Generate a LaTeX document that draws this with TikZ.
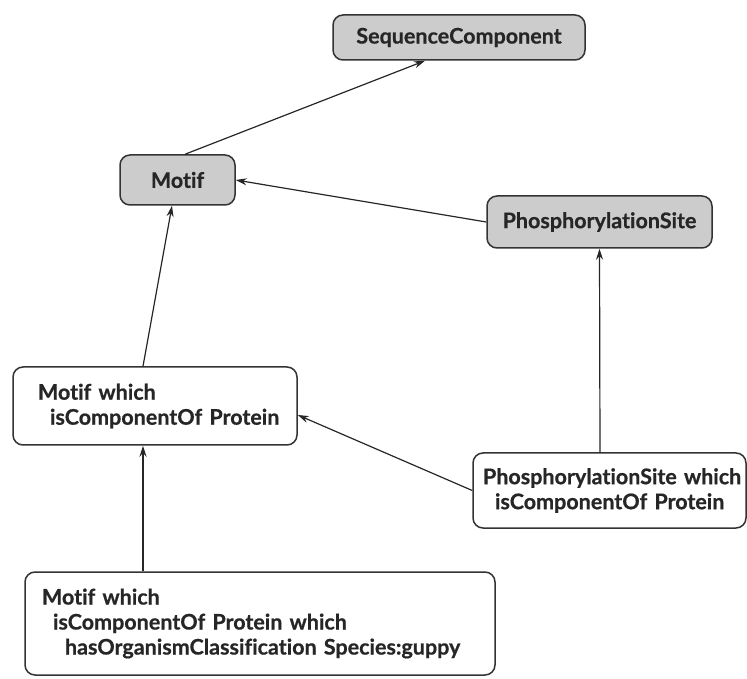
\documentclass[tikz,border=0pt]{standalone}
\usepackage{fontspec}
\setmainfont{Lato}[Ligatures=NoCommon, BoldFeatures={FakeBold=0.6}]
\usetikzlibrary{arrows.meta}
\begin{document}
\begin{tikzpicture}[x=1pt,y=1pt,
  base/.style={draw=black!80, line width=1.5pt, rounded corners=10pt,
    text=black!85, font=\fontsize{21.5}{25}\selectfont\bfseries},
  classbox/.style={base, fill=black!20, inner sep=0pt},
  exprbox/.style={base, fill=white, align=left, inner ysep=0pt},
  isa/.style={draw=black!85, line width=1.2pt, -{Stealth[length=11pt,width=7pt]}}]
\useasboundingbox (0,0) rectangle (747,678);
% named classes
\node[classbox, minimum width=252pt, minimum height=45pt] (seq) at (459,640.5) {SequenceComponent};
\node[classbox, minimum width=115pt, minimum height=50pt] (motif) at (177.5,498) {Motif};
\node[classbox, minimum width=225pt, minimum height=52pt] (phos) at (599.5,456) {PhosphorylationSite};
% defined expressions (each line kept whole)
\node[exprbox, text width=234pt, inner xsep=25pt, minimum height=78pt] (mw) at (155,272)
  {\mbox{Motif which}\\\mbox{\hspace*{12pt}isComponentOf Protein}};
\node[exprbox, text width=253pt, inner xsep=10pt, minimum height=75pt] (pw) at (609.5,187.5)
  {\mbox{PhosphorylationSite which}\\\mbox{\hspace*{12pt}isComponentOf Protein}};
\node[exprbox, text width=436pt, inner xsep=17pt, minimum height=103pt] (mwo) at (260,54.5)
  {\mbox{Motif which}\\\mbox{\hspace*{11pt}isComponentOf Protein which}\\\mbox{\hspace*{23pt}hasOrganismClassification Species:guppy}};
% subsumption links
\draw[isa] ([xshift=7.5pt]motif.north) -- ([xshift=-34pt]seq.south);
\draw[isa] (phos.west) -- (motif.east);
\draw[isa] ([xshift=-12pt]mw.north) -- ([xshift=-5.5pt]motif.south);
\draw[isa] ([xshift=-9.5pt]pw.north) -- (phos.south);
\draw[isa] (pw.west) -- ([yshift=-9pt]mw.east);
\draw[isa] ([xshift=-117pt]mwo.north) -- ([xshift=-12pt]mw.south);
\end{tikzpicture}
\end{document}
